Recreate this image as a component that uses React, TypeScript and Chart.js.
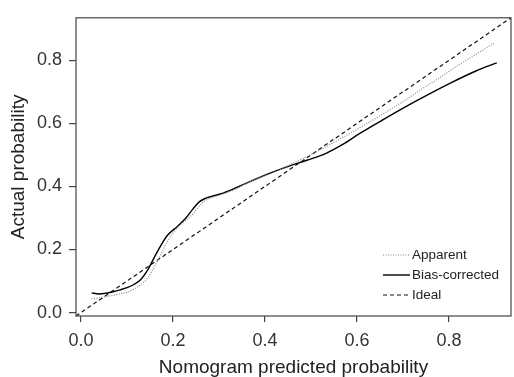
import React, { useEffect, useRef } from "react";
import { Chart, registerables } from "chart.js";

Chart.register(...registerables);

const FONT = "'Liberation Sans', Arial, Helvetica, sans-serif";

const tickValues = [0, 0.2, 0.4, 0.6, 0.8];
const axisMin = -0.011;
const axisMax = 0.935;

const apparentX = [0.023, 0.045, 0.063, 0.08, 0.099, 0.115, 0.13, 0.144, 0.157, 0.172, 0.186, 0.201, 0.215, 0.23, 0.244, 0.257, 0.268, 0.287, 0.31, 0.331, 0.36, 0.39, 0.42, 0.45, 0.483, 0.52, 0.56, 0.6, 0.65, 0.7, 0.737, 0.78, 0.82, 0.86, 0.898];
const apparentY = [0.043, 0.048, 0.053, 0.058, 0.064, 0.074, 0.088, 0.108, 0.138, 0.18, 0.22, 0.254, 0.277, 0.295, 0.314, 0.337, 0.353, 0.366, 0.377, 0.388, 0.41, 0.428, 0.446, 0.466, 0.489, 0.516, 0.548, 0.581, 0.624, 0.669, 0.705, 0.745, 0.784, 0.82, 0.854];

const biasX = [0.023, 0.038, 0.054, 0.07, 0.085, 0.1, 0.115, 0.13, 0.145, 0.159, 0.174, 0.188, 0.21, 0.228, 0.243, 0.257, 0.27, 0.285, 0.309, 0.346, 0.382, 0.418, 0.454, 0.491, 0.534, 0.57, 0.607, 0.657, 0.73, 0.802, 0.86, 0.904];
const biasY = [0.0625, 0.059, 0.061, 0.066, 0.072, 0.079, 0.089, 0.105, 0.135, 0.174, 0.214, 0.245, 0.274, 0.3, 0.328, 0.351, 0.362, 0.369, 0.379, 0.402, 0.425, 0.446, 0.465, 0.483, 0.506, 0.534, 0.569, 0.612, 0.672, 0.727, 0.767, 0.792];

const idealX = [-0.011, 0.94];
const idealY = [-0.011, 0.94];

const seriesLabels = ["Apparent", "Bias-corrected", "Ideal"];

const toPoints = (xs: number[], ys: number[]) => xs.map((x, i) => ({ x, y: ys[i] }));

const boxAndLegend = {
  id: "boxAndLegend",
  afterDatasetsDraw(chart: any) {
    const { ctx, chartArea } = chart;
    ctx.save();
    ctx.strokeStyle = "#444";
    ctx.lineWidth = 1.2;
    ctx.setLineDash([]);
    ctx.strokeRect(chartArea.left, chartArea.top, chartArea.right - chartArea.left, chartArea.bottom - chartArea.top);

    ctx.font = `13.5px ${FONT}`;
    ctx.textBaseline = "middle";
    ctx.textAlign = "left";
    chart.data.datasets.forEach((ds: any, i: number) => {
      const y = chartArea.bottom - 61 + i * 20;
      const x0 = chartArea.right - 128;
      const x1 = chartArea.right - 101;
      ctx.beginPath();
      ctx.strokeStyle = ds.borderColor;
      ctx.lineWidth = ds.borderWidth;
      ctx.setLineDash(ds.borderDash || []);
      ctx.moveTo(x0, y);
      ctx.lineTo(x1, y);
      ctx.stroke();
      ctx.setLineDash([]);
      ctx.fillStyle = "#222";
      ctx.fillText(ds.label, chartArea.right - 99, y);
    });
    ctx.restore();
  },
};

export default function App() {
  const ref = useRef<HTMLCanvasElement>(null);
  useEffect(() => {
    if (!ref.current) return;
    const tickOpts = {
      font: { family: FONT, size: 18 },
      color: "#333",
      callback: (v: any) => Number(v).toFixed(1),
    };
    const chart = new Chart(ref.current, {
      type: "line",
      data: {
        datasets: [
          {
            label: seriesLabels[0],
            data: toPoints(apparentX, apparentY),
            borderColor: "#8a8a8a",
            borderWidth: 1.2,
            borderDash: [1, 1.5],
            pointRadius: 0,
            cubicInterpolationMode: "monotone",
          },
          {
            label: seriesLabels[1],
            data: toPoints(biasX, biasY),
            borderColor: "#000",
            borderWidth: 1.4,
            pointRadius: 0,
            cubicInterpolationMode: "monotone",
          },
          {
            label: seriesLabels[2],
            data: toPoints(idealX, idealY),
            borderColor: "#111",
            borderWidth: 1.2,
            borderDash: [4, 3],
            pointRadius: 0,
          },
        ],
      },
      options: {
        animation: false,
        responsive: false,
        events: [],
        layout: { padding: { left: 0, top: 13, right: 3, bottom: 0 } },
        plugins: { legend: { display: false }, tooltip: { enabled: false } },
        scales: {
          x: {
            type: "linear",
            min: axisMin,
            max: axisMax,
            afterBuildTicks: (s: any) => { s.ticks = tickValues.map((value) => ({ value })); },
            afterFit: (s: any) => { s.height = 61; },
            ticks: { ...tickOpts, padding: 8, maxRotation: 0, autoSkip: false },
            grid: { drawOnChartArea: false, drawTicks: true, tickLength: 6, color: "#444", lineWidth: 1.2 },
            border: { display: false },
            title: {
              display: true,
              text: "Nomogram predicted probability",
              font: { family: FONT, size: 19, lineHeight: 1 },
              color: "#222",
              padding: { top: 0, bottom: 0 },
            },
          },
          y: {
            type: "linear",
            min: axisMin,
            max: axisMax,
            afterBuildTicks: (s: any) => { s.ticks = tickValues.map((value) => ({ value })); },
            afterFit: (s: any) => { s.width = 76; },
            ticks: { ...tickOpts, padding: 7, autoSkip: false },
            grid: { drawOnChartArea: false, drawTicks: true, tickLength: 7, color: "#444", lineWidth: 1.2 },
            border: { display: false },
            title: {
              display: true,
              text: "Actual probability",
              font: { family: FONT, size: 19, lineHeight: 1 },
              color: "#222",
              padding: { top: 9, bottom: 0 },
            },
          },
        },
      },
      plugins: [boxAndLegend],
    } as any);
    return () => chart.destroy();
  }, []);
  return (
    <div style={{ position: "fixed", left: 0, top: 0, width: 514, height: 377, background: "#fff" }}>
      <canvas ref={ref} width={514} height={377} style={{ display: "block" }} />
    </div>
  );
}
